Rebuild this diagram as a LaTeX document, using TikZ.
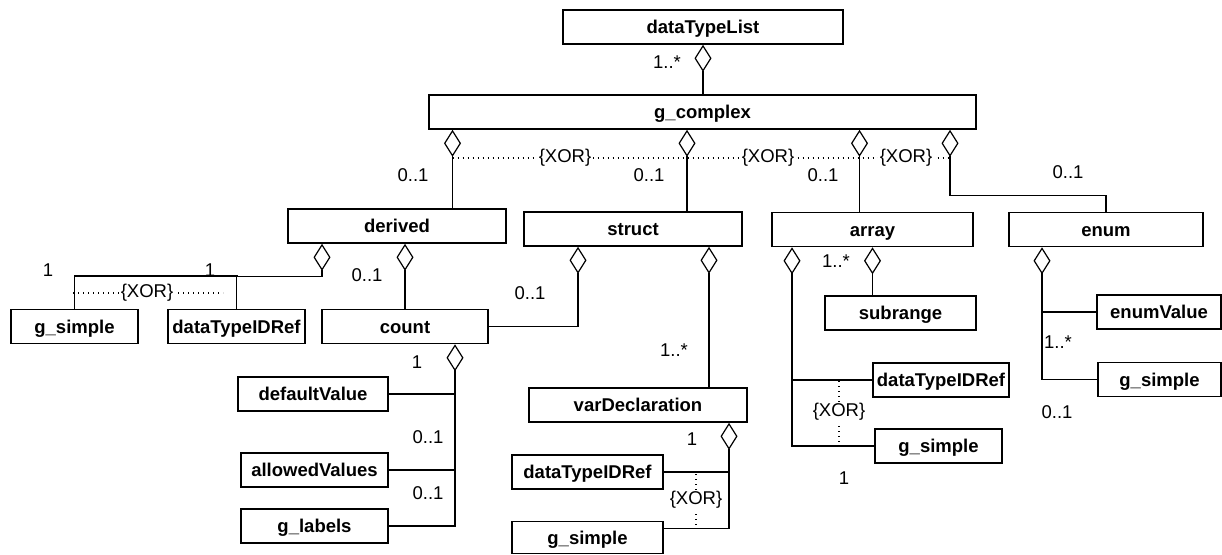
\documentclass[tikz,border=0pt]{standalone}
\usepackage{fontspec}
\setmainfont{Liberation Sans}
\usetikzlibrary{arrows.meta}
\begin{document}
\begin{tikzpicture}[x=1pt,y=-1pt,
  every node/.style={font=\fontsize{18.5}{22}\selectfont},
  cls/.style={draw, line width=1.6pt, inner sep=0pt,
    font=\fontsize{18.5}{22}\selectfont\bfseries,
    text height=14pt, text depth=1pt, minimum height=34pt},
  lbl/.style={inner sep=1pt},
  xor/.style={fill=white, inner sep=1.5pt},
  link/.style={line width=1.2pt},
  agg/.style={link, -{Diamond[open, length=27pt, width=17pt]}},
  choice/.style={line width=1.2pt, dash pattern=on 1.2pt off 3.8pt},
]
% canvas
\fill[white] (0,0) rectangle (1222,554);
\useasboundingbox (0,0) rectangle (1222,554);

% classes
\node[cls, minimum width=280pt] (dtl) at (703,27) {dataTypeList};
\node[cls, minimum width=547pt] (gcx) at (702.5,112) {g\_complex};
\node[cls, minimum width=218pt] (derived) at (397,226) {derived};
\node[cls, minimum width=218pt] (struct) at (633,229) {struct};
\node[cls, minimum width=201pt] (array) at (872.5,229.5) {array};
\node[cls, minimum width=194pt] (enum) at (1106,229.5) {enum};
\node[cls, minimum width=127pt] (gsL) at (74.5,326.5) {g\_simple};
\node[cls, minimum width=137pt] (dtirL) at (236.5,326.5) {dataTypeIDRef};
\node[cls, minimum width=166pt] (count) at (405,326.5) {count};
\node[cls, minimum width=150pt] (defv) at (313,394) {defaultValue};
\node[cls, minimum width=147pt] (allv) at (314.5,470) {allowedValues};
\node[cls, minimum width=147pt] (glab) at (314.5,526) {g\_labels};
\node[cls, minimum width=218pt] (vdecl) at (638,405) {varDeclaration};
\node[cls, minimum width=151pt] (dtirM) at (587.5,472) {dataTypeIDRef};
\node[cls, minimum width=151pt, minimum height=32pt] (gsM) at (587.5,537.5) {g\_simple};
\node[cls, minimum width=151pt] (subr) at (900.5,313) {subrange};
\node[cls, minimum width=136pt] (dtirR) at (941,380) {dataTypeIDRef};
\node[cls, minimum width=127pt] (gsR) at (938.5,446) {g\_simple};
\node[cls, minimum width=124pt] (enumv) at (1159,312) {enumValue};
\node[cls, minimum width=123pt] (gsE) at (1159.5,379.5) {g\_simple};

% vertical tracks of the aggregation lines
\coordinate (xa) at (452.5,0);
\coordinate (xb) at (687,0);
\coordinate (xc) at (859.5,0);
\coordinate (xe) at (950,0);
\coordinate (xdl) at (322,0);
\coordinate (xsl) at (578,0);
\coordinate (xsr) at (709,0);
\coordinate (xv) at (729,0);
\coordinate (xcc) at (455,0);
\coordinate (xal) at (792,0);
\coordinate (xen) at (1042,0);

% dataTypeList / g_complex
\draw[agg] (gcx.north -| dtl.south) -- (dtl.south);
\node[lbl] (m0) at (667,62) {1..*};

% g_complex alternatives
\draw[agg] (derived.north -| xa) -- (gcx.south -| xa);
\draw[agg] (struct.north -| xb) -- (gcx.south -| xb);
\draw[agg] (array.north -| xc) -- (gcx.south -| xc);
\draw[agg] (enum.north) -- ++(0,-16.5) -| (gcx.south -| xe);
\draw[choice] (xa |- 0,158) -- (xe |- 0,158);
\node[xor] (x1) at (565,158) {\{XOR\}};
\node[xor] (x2) at (768,158) {\{XOR\}};
\node[xor] (x3) at (906,158) {\{XOR\}};
\node[lbl] (m1) at (413,175) {0..1};
\node[lbl] (m2) at (649,175) {0..1};
\node[lbl] (m3) at (823,175) {0..1};
\node[lbl] (m4) at (1068,172) {0..1};

% derived
\coordinate (jL) at (238,276);
\draw[agg] (dtirL.north) -- ++(0,-32) -| (derived.south -| xdl);
\draw[link] (gsL.north) |- (jL);
\draw[choice] (73,293) -- (223,293);
\node[xor] (x4) at (147,293) {\{XOR\}};
\node[lbl] (m5) at (48,270) {1};
\node[lbl] (m6) at (210,270) {1};
\draw[agg] (count.north) -- (derived.south -| count.north);
\node[lbl] (m7) at (367,275) {0..1};

% struct
\draw[agg] (count.east) -| (struct.south -| xsl);
\draw[agg] (vdecl.north -| xsr) -- (struct.south -| xsr);
\node[lbl] (m8) at (530,293) {0..1};
\node[lbl] (m9) at (674,350) {1..*};

% varDeclaration
\draw[agg] (dtirM.east) -| (vdecl.south -| xv);
\draw[link] ([yshift=-8pt]gsM.north east) -| (dtirM.east -| xv);
\draw[choice] (696,474) -- (696,528);
\node[xor] (x5) at (696,500) {\{XOR\}};
\node[lbl] (m10) at (692,439) {1};

% count
\draw[agg] (defv.east) -| (count.south -| xcc);
\draw[link] (allv.east) -- (allv.east -| xcc);
\draw[link] (glab.east) -| (defv.east -| xcc);
\node[lbl] (m11) at (417,362) {1};
\node[lbl] (m12) at (428,437) {0..1};
\node[lbl] (m13) at (428,493) {0..1};

% array
\draw[agg] (dtirR.west) -| (array.south -| xal);
\draw[link] (gsR.west) -| (dtirR.west -| xal);
\draw[agg] (array.south |- subr.north) -- (array.south);
\draw[choice] (839,381) -- (839,445);
\node[xor] (x6) at (839,412) {\{XOR\}};
\node[lbl] (m14) at (836,261) {1..*};
\node[lbl] (m15) at (844,478) {1};

% enum
\draw[agg] (gsE.west) -| (enum.south -| xen);
\draw[link] (enumv.west) -- (enumv.west -| xen);
\node[lbl] (m16) at (1058,342) {1..*};
\node[lbl] (m17) at (1057,412) {0..1};
\end{tikzpicture}
\end{document}
